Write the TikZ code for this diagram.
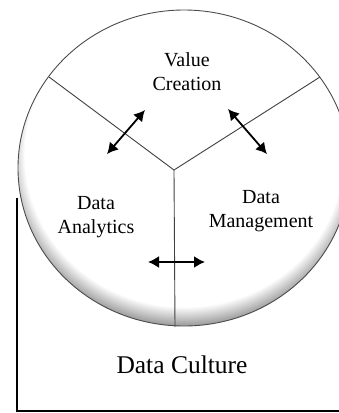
\documentclass[tikz,border=0pt]{standalone}
\usepackage{fontspec}
\setmainfont{Liberation Serif}
\usetikzlibrary{arrows.meta}
\pgfdeclareradialshading{rimshade}{\pgfpoint{0bp}{4bp}}{color(0bp)=(white); color(24bp)=(white); color(26.5bp)=(black!35); color(29bp)=(black!70); color(50bp)=(black!70)}
\tikzset{
    label/.style={align=center,font=\fontsize{20bp}{24bp}\selectfont},
    spoke/.style={draw=black!75,line width=0.9bp},
    link/.style={<->,line width=1.8bp,>={Latex[length=11bp,width=12bp]}},
    frame/.style={line width=2.3bp},
}

\begin{document}
\begin{tikzpicture}[x=1bp,y=-1bp]
            \useasboundingbox (0,0) rectangle (339,413);
            % wheel
            \begin{scope}
                \clip (0,0) rectangle (339,413);
                \shade[shading=rimshade] (184,168) ellipse[x radius=166,y radius=158];
                \draw[black!70,line width=0.9bp] (184,168) ellipse[x radius=166,y radius=158];
            \end{scope}
            \coordinate (hub) at (174,170);
            \coordinate (rimL) at (49,77);
            \coordinate (rimR) at (320,77);
            \coordinate (rimB) at (175,327);
            \draw[spoke] (rimL) -- (hub) -- (rimR);
            \draw[spoke] (hub) -- (rimB);
            % labels
            \node[label] (value) at (187,72) {Value\\Creation};
            \node[label] (analytics) at (96,217) {Data\\Analytics};
            \node[label] (management) at (261,211) {Data\\Management};
            \node[font=\fontsize{25.5bp}{30bp}\selectfont] (culture) at (182,365) {Data Culture};
            % arrows
            \coordinate (aL1) at (107,154);
            \coordinate (aL2) at (145,110);
            \coordinate (aR1) at (228,109);
            \coordinate (aR2) at (267,154);
            \coordinate (aB1) at (148,262);
            \coordinate (aB2) at (205,262);
            \draw[link] (aL1) -- (aL2);
            \draw[link] (aR1) -- (aR2);
            \draw[link] (aB1) -- (aB2);
            % frame
            \coordinate (fTop) at (17,198);
            \coordinate (fCorner) at (17,411);
            \coordinate (fEnd) at (339,411);
            \draw[frame] (fTop) -- (fCorner) -- (fEnd);
        \end{tikzpicture}
\end{document}
